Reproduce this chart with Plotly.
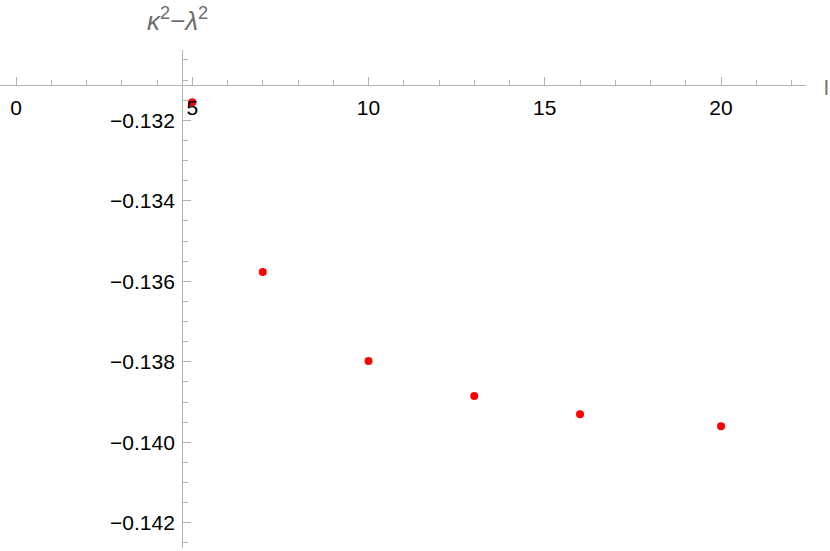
import plotly.graph_objects as go

# Datos
l_vals = [5, 7, 10, 13, 16, 20]
k2_menos_l2 = [-0.13155, -0.13577, -0.13798, -0.13885, -0.13930, -0.13960]

x_ticks = [0, 5, 10, 15, 20]
y_ticks = [-0.132, -0.134, -0.136, -0.138, -0.140, -0.142]

# Rango de los ejes y punto de cruce (estilo Mathematica)
x_range = [-0.454, 22.41]
y_range = [-0.142626, -0.130253]
x_cruce = 4.71
y_cruce = -0.131123

gris_eje = "#b3b3b3"
gris_texto = "#6e6e6e"
fuente = "Liberation Sans, Arial, sans-serif"

W, H = 830, 551
m_l, m_r, m_t, m_b = 0, 24, 50, 3

fig = go.Figure()

fig.add_trace(go.Scatter(
    x=l_vals,
    y=k2_menos_l2,
    mode="markers",
    marker=dict(color="#ff0000", size=8),
    cliponaxis=False,
    showlegend=False,
))

pos_x = (y_cruce - y_range[0]) / (y_range[1] - y_range[0])
pos_y = (x_cruce - x_range[0]) / (x_range[1] - x_range[0])

fig.update_layout(
    width=W,
    height=H,
    margin=dict(l=m_l, r=m_r, t=m_t, b=m_b, autoexpand=False),
    plot_bgcolor="white",
    paper_bgcolor="white",
    font=dict(family=fuente, size=21, color="black"),
    xaxis=dict(
        range=x_range,
        anchor="free",
        position=pos_x,
        automargin=False,
        showgrid=False,
        zeroline=False,
        showline=True,
        linecolor=gris_eje,
        linewidth=1,
        tickmode="array",
        tickvals=x_ticks,
        ticks="inside",
        ticklen=8,
        tickcolor=gris_eje,
        ticklabelstandoff=4,
        tickfont=dict(family=fuente, size=21, color="black"),
        minor=dict(dtick=1, tick0=0, ticks="inside", ticklen=5, tickcolor=gris_eje, showgrid=False),
    ),
    yaxis=dict(
        range=y_range,
        anchor="free",
        position=pos_y,
        automargin=False,
        showgrid=False,
        zeroline=False,
        showline=True,
        linecolor=gris_eje,
        linewidth=1,
        tickmode="array",
        tickvals=y_ticks,
        tickformat=".3f",
        ticks="inside",
        ticklen=8,
        tickcolor=gris_eje,
        ticklabelstandoff=3,
        tickfont=dict(family=fuente, size=21, color="black"),
        minor=dict(dtick=0.0005, tick0=-0.142, ticks="inside", ticklen=5, tickcolor=gris_eje, showgrid=False),
    ),
)

# Etiquetas de los ejes
pw = W - m_l - m_r
ph = H - m_t - m_b
fig.add_annotation(
    text="<i>κ</i><sup>2</sup>−<i>λ</i><sup>2</sup>",
    xref="paper", yref="paper",
    x=(177 - m_l) / pw, y=(H - m_b - 20) / ph,
    xanchor="center", yanchor="middle",
    showarrow=False,
    font=dict(family=fuente, size=26, color=gris_texto),
)
fig.add_annotation(
    text="l",
    xref="paper", yref="paper",
    x=(822 - m_l) / pw, y=(H - m_b - 87) / ph,
    xanchor="left", yanchor="middle",
    showarrow=False,
    font=dict(family=fuente, size=21, color=gris_texto),
)

# sin margen del body para que la figura empiece en (0, 0)
fig.write_html("out.html",
               config={"displayModeBar": False},
               post_script="document.body.style.margin='0px';")
